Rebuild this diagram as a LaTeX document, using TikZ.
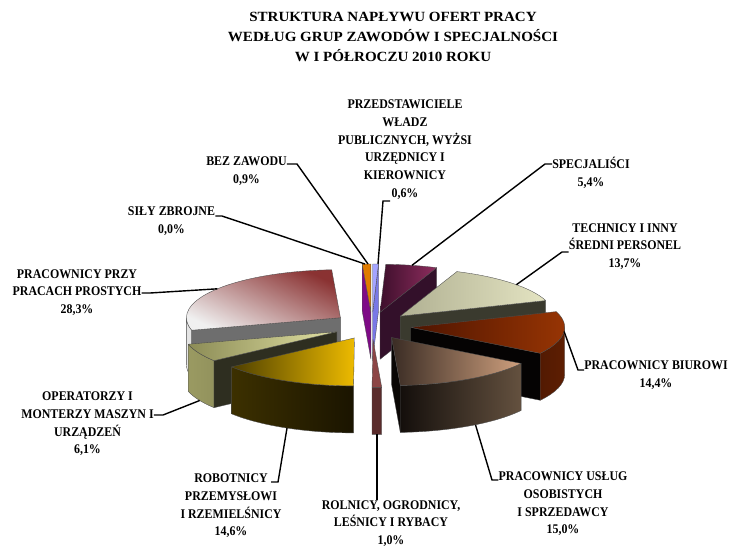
\documentclass[tikz,border=0pt]{standalone}
\usepackage{fontspec}
\newfontfamily\labelfont{Liberation Serif}[FakeStretch=0.9]
\newfontfamily\titlefont{Liberation Serif}[FakeStretch=1.07]
\usetikzlibrary{calc, % for relative coords
                positioning}

\definecolor{bezTop}{HTML}{E07B00}
\definecolor{bezFace}{HTML}{7E0A86}
\definecolor{przTop}{HTML}{A4A4FF}
\definecolor{przFace}{HTML}{7878E6}
\definecolor{specA}{HTML}{3E0F2C}
\definecolor{specB}{HTML}{8E2D5E}
\definecolor{specFace}{HTML}{33102A}
\definecolor{techA}{HTML}{B0B092}
\definecolor{techB}{HTML}{E4E4C2}
\definecolor{techFace}{HTML}{3A3A2E}
\definecolor{biurA}{HTML}{4E1400}
\definecolor{biurB}{HTML}{9A3604}
\definecolor{biurFace}{HTML}{050303}
\definecolor{biurWallA}{HTML}{150500}
\definecolor{biurWallB}{HTML}{5E1E02}
\definecolor{uslA}{HTML}{3A2C24}
\definecolor{uslB}{HTML}{CFA07E}
\definecolor{uslFace}{HTML}{0A0705}
\definecolor{uslWallA}{HTML}{0E0A08}
\definecolor{uslWallB}{HTML}{64513F}
\definecolor{rolnTop}{HTML}{8C4545}
\definecolor{rolnWall}{HTML}{5A2C2C}
\definecolor{robA}{HTML}{4E3F00}
\definecolor{robB}{HTML}{EDBB00}
\definecolor{robWallA}{HTML}{3C3000}
\definecolor{robWallB}{HTML}{6E5800}
\definecolor{robWallC}{HTML}{1A1400}
\definecolor{operA}{HTML}{8C8C56}
\definecolor{operB}{HTML}{E2E2A4}
\definecolor{operFace}{HTML}{2E2E20}
\definecolor{operWallA}{HTML}{9A9A62}
\definecolor{operWallB}{HTML}{6E6E44}
\definecolor{prostA}{HTML}{F0F0F0}
\definecolor{prostB}{HTML}{8A3232}
\definecolor{prostWallA}{HTML}{E4E4E4}
\definecolor{prostWallB}{HTML}{CFCFCF}
\definecolor{prostFace}{HTML}{6E6E6E}

\begin{document}
\begin{tikzpicture}[x=0.03cm, y=0.03cm,
                    slice/.style={draw=black!70, line width=0.3pt, line join=round},
                    leader/.style={draw=black, line width=1.2pt},
                    cat_label/.style={font=\labelfont\bfseries\fontsize{11.3}{15.1}\selectfont,
                                      align=center, inner sep=0pt},
                    title_label/.style={font=\titlefont\bfseries\fontsize{12}{16.7}\selectfont,
                                        align=center, inner sep=0pt}
                    ]
        \useasboundingbox (0,0) rectangle (736,-548);
        \fill[white] (0,0) rectangle (736,-548);

        % tips of the exploded slices
        \coordinate (Tbez)   at (370.9,-312.0);
        \coordinate (Tprz)   at (372.7,-312.0);
        \coordinate (Tspec)  at (380.0,-312.3);
        \coordinate (Ttech)  at (400.2,-316.2);
        \coordinate (Tbiur)  at (410.7,-327.3);
        \coordinate (Tusl)   at (391.6,-337.5);
        \coordinate (Troln)  at (373.0,-339.4);
        \coordinate (Trob)   at (354.5,-337.9);
        \coordinate (Toper)  at (336.9,-331.7);
        \coordinate (Tprost) at (340.4,-317.7);

        % bez zawodu
        \draw[slice, fill=bezFace] (Tbez) -- ++({154*cos(93.24)},{48*sin(93.24)}) -- ++(0,-47)
            -- ++({-154*cos(93.24)},{-48*sin(93.24)}) -- cycle;
        \draw[slice, fill=bezTop] (Tbez) -- ++(0,48)
            arc[start angle=90, end angle=93.24, x radius=154, y radius=48] -- cycle;

        % przedstawiciele wladz
        \draw[slice, fill=przFace] (Tprz) -- ++({154*cos(87.84)},{48*sin(87.84)}) -- ++(0,-47)
            -- ++({-154*cos(87.84)},{-48*sin(87.84)}) -- cycle;
        \draw[slice, fill=przTop] (Tprz) -- ++({154*cos(87.84)},{48*sin(87.84)})
            arc[start angle=87.84, end angle=90, x radius=154, y radius=48] -- cycle;

        % specjalisci
        \draw[slice, fill=specFace] (Tspec) -- ++({154*cos(68.4)},{48*sin(68.4)}) -- ++(0,-47)
            -- ++({-154*cos(68.4)},{-48*sin(68.4)}) -- cycle;
        \draw[slice, left color=specA, right color=specB] (Tspec) -- ++({154*cos(68.4)},{48*sin(68.4)})
            arc[start angle=68.4, end angle=87.84, x radius=154, y radius=48] -- cycle;

        % prace proste
        \draw[slice, left color=prostWallA, right color=prostWallB] (Tprost) ++(-154,0)
            arc[start angle=180, end angle=195.12, x radius=154, y radius=48] -- ++(0,-47)
            arc[start angle=195.12, end angle=180, x radius=154, y radius=48] -- cycle;
        \draw[slice, fill=prostFace] (Tprost) -- ++({154*cos(195.12)},{48*sin(195.12)}) -- ++(0,-47)
            -- ++({-154*cos(195.12)},{-48*sin(195.12)}) -- cycle;
        \draw[slice, top color=prostB, middle color=prostA!70!prostB, bottom color=prostA, shading angle=-25] (Tprost)
            -- ++({154*cos(93.24)},{48*sin(93.24)})
            arc[start angle=93.24, end angle=195.12, x radius=154, y radius=48] -- cycle;

        % technicy
        \draw[slice, fill=techFace] (Ttech) -- ++({154*cos(19.08)},{48*sin(19.08)}) -- ++(0,-47)
            -- ++({-154*cos(19.08)},{-48*sin(19.08)}) -- cycle;
        \draw[slice, left color=techA, right color=techB] (Ttech) -- ++({154*cos(19.08)},{48*sin(19.08)})
            arc[start angle=19.08, end angle=68.4, x radius=154, y radius=48] -- cycle;

        % biurowi
        \draw[slice, fill=biurFace] (Tbiur) -- ++({154*cos(-32.76)},{48*sin(-32.76)}) -- ++(0,-47)
            -- ++({-154*cos(-32.76)},{-48*sin(-32.76)}) -- cycle;
        \draw[slice, left color=biurWallA, right color=biurWallB] (Tbiur) ++({154*cos(-32.76)},{48*sin(-32.76)})
            arc[start angle=-32.76, end angle=0, x radius=154, y radius=48] -- ++(0,-47)
            arc[start angle=0, end angle=-32.76, x radius=154, y radius=48] -- cycle;
        \draw[slice, left color=biurA, right color=biurB] (Tbiur) -- ++({154*cos(-32.76)},{48*sin(-32.76)})
            arc[start angle=-32.76, end angle=19.08, x radius=154, y radius=48] -- cycle;

        % operatorzy
        \draw[slice, left color=operWallA, right color=operWallB] (Toper) ++({154*cos(-164.88)},{48*sin(-164.88)})
            arc[start angle=-164.88, end angle=-142.92, x radius=154, y radius=48] -- ++(0,-47)
            arc[start angle=-142.92, end angle=-164.88, x radius=154, y radius=48] -- cycle;
        \draw[slice, fill=operFace] (Toper) -- ++({154*cos(-142.92)},{48*sin(-142.92)}) -- ++(0,-47)
            -- ++({-154*cos(-142.92)},{-48*sin(-142.92)}) -- cycle;
        \draw[slice, left color=operA, right color=operB] (Toper) -- ++({154*cos(-164.88)},{48*sin(-164.88)})
            arc[start angle=-164.88, end angle=-142.92, x radius=154, y radius=48] -- cycle;

        % uslugi
        \draw[slice, fill=uslFace] (Tusl) -- ++({154*cos(-86.76)},{48*sin(-86.76)}) -- ++(0,-47)
            -- ++({-154*cos(-86.76)},{-48*sin(-86.76)}) -- cycle;
        \draw[slice, left color=uslWallA, right color=uslWallB] (Tusl) ++({154*cos(-86.76)},{48*sin(-86.76)})
            arc[start angle=-86.76, end angle=-32.76, x radius=154, y radius=48] -- ++(0,-47)
            arc[start angle=-32.76, end angle=-86.76, x radius=154, y radius=48] -- cycle;
        \draw[slice, left color=uslA, right color=uslB] (Tusl) -- ++({154*cos(-86.76)},{48*sin(-86.76)})
            arc[start angle=-86.76, end angle=-32.76, x radius=154, y radius=48] -- cycle;

        % robotnicy
        \draw[slice, left color=robWallA, middle color=robWallB, right color=robWallC] (Trob)
            ++({154*cos(-142.92)},{48*sin(-142.92)})
            arc[start angle=-142.92, end angle=-90.36, x radius=154, y radius=48] -- ++(0,-47)
            arc[start angle=-90.36, end angle=-142.92, x radius=154, y radius=48] -- cycle;
        \draw[slice, left color=robA, right color=robB] (Trob) -- ++({154*cos(-142.92)},{48*sin(-142.92)})
            arc[start angle=-142.92, end angle=-90.36, x radius=154, y radius=48] -- cycle;

        % rolnicy
        \draw[slice, fill=rolnWall] (Troln) ++({154*cos(-90.36)},{48*sin(-90.36)})
            arc[start angle=-90.36, end angle=-86.76, x radius=154, y radius=48] -- ++(0,-47)
            arc[start angle=-86.76, end angle=-90.36, x radius=154, y radius=48] -- cycle;
        \draw[slice, fill=rolnTop] (Troln) -- ++({154*cos(-90.36)},{48*sin(-90.36)})
            arc[start angle=-90.36, end angle=-86.76, x radius=154, y radius=48] -- cycle;

        % title
        \node[title_label] (title) at (393,-37)
            {STRUKTURA NAPŁYWU OFERT PRACY\\WEDŁUG GRUP ZAWODÓW I SPECJALNOŚCI\\W I PÓŁROCZU 2010 ROKU};

        % labels
        \node[cat_label] (lPrz)   at (405,-149.5) {PRZEDSTAWICIELE\\WŁADZ\\PUBLICZNYCH, WYŻSI\\URZĘDNICY I\\KIEROWNICY\\0,6\%};
        \node[cat_label] (lSpec)  at (591,-173)   {SPECJALIŚCI\\5,4\%};
        \node[cat_label] (lTech)  at (625,-246.5) {TECHNICY I INNY\\ŚREDNI PERSONEL\\13,7\%};
        \node[cat_label] (lBiur)  at (656,-375)   {PRACOWNICY BIUROWI\\14,4\%};
        \node[cat_label] (lUsl)   at (563,-504)   {PRACOWNICY USŁUG\\OSOBISTYCH\\I SPRZEDAWCY\\15,0\%};
        \node[cat_label] (lRoln)  at (391,-523.5) {ROLNICY, OGRODNICY,\\LEŚNICY I RYBACY\\1,0\%};
        \node[cat_label] (lRob)   at (231,-506)   {ROBOTNICY\\PRZEMYSŁOWI\\I RZEMIELŚNICY\\14,6\%};
        \node[cat_label] (lOper)  at (87.5,-424)  {OPERATORZY I\\MONTERZY MASZYN I\\URZĄDZEŃ\\6,1\%};
        \node[cat_label] (lProst) at (77,-292.5)  {PRACOWNICY PRZY\\PRACACH PROSTYCH\\28,3\%};
        \node[cat_label] (lSily)  at (171.5,-221) {SIŁY ZBROJNE\\0,0\%};
        \node[cat_label] (lBez)   at (246.5,-171) {BEZ ZAWODU\\0,9\%};

        % leader points on the slices
        \coordinate (sBez)   at (368,-264);
        \coordinate (sSily)  at (365,-264);
        \coordinate (sPrz)   at (378,-264);
        \coordinate (sSpec)  at (412,-265.3);
        \coordinate (sTech)  at (516.4,-284.7);
        \coordinate (sBiur)  at (564.1,-331.5);
        \coordinate (sUsl)   at (475.5,-424.8);
        \coordinate (sRoln)  at (376.9,-434.4);
        \coordinate (sRob)   at (287,-428);
        \coordinate (sOper)  at (199.7,-400.5);
        \coordinate (sProst) at (217.4,-288.8);

        % bends
        \coordinate (kBez)   at (297,-164);
        \coordinate (kSily)  at (222,-216);
        \coordinate (kPrz)   at (383,-201);
        \coordinate (ePrz)   at (390,-201);
        \coordinate (kSpec)  at (545,-164);
        \coordinate (kTech)  at (562,-252);
        \coordinate (kBiur)  at (578,-370);
        \coordinate (kUsl)   at (492,-480);
        \coordinate (kRob)   at (278,-482);
        \coordinate (eRob)   at (271,-482);
        \coordinate (kOper)  at (163,-415);
        \coordinate (kProst) at (150,-293);

        \draw[leader] (sBez) -- (kBez) -- (kBez -| lBez.east);
        \draw[leader] (sSily) -- (kSily) -- (kSily -| lSily.east);
        \draw[leader] (sPrz) -- (kPrz) -- (ePrz);
        \draw[leader] (sSpec) -- (kSpec) -- (kSpec -| lSpec.west);
        \draw[leader] (sTech) -- (kTech) -- (kTech -| lTech.west);
        \draw[leader] (sBiur) -- (kBiur) -- (kBiur -| lBiur.west);
        \draw[leader] (sUsl) -- (kUsl) -- (kUsl -| lUsl.west);
        \draw[leader] (sRoln) -- (sRoln |- lRoln.north);
        \draw[leader] (sRob) -- (kRob) -- (eRob);
        \draw[leader] (sOper) -- (kOper) -- (kOper -| lOper.east);
        \draw[leader] (sProst) -- (kProst) -- (kProst -| lProst.east);
    \end{tikzpicture}
\end{document}
